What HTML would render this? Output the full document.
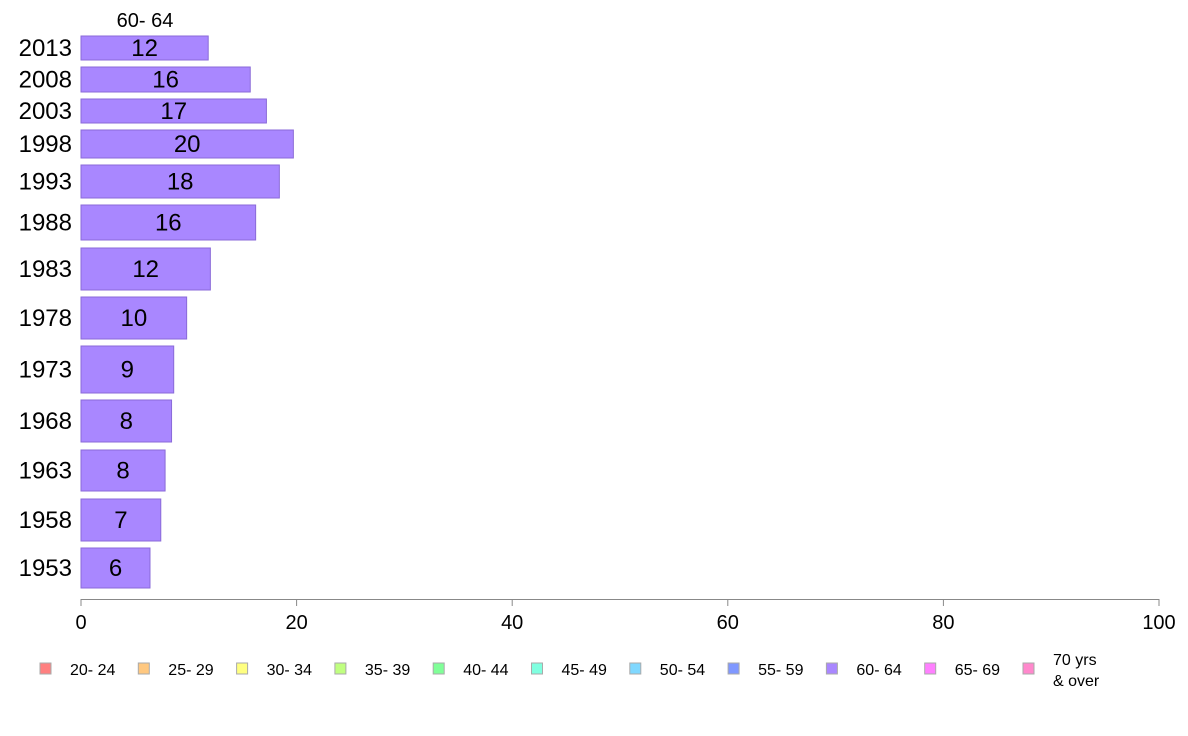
<!DOCTYPE html>
<html><head><meta charset="utf-8"><style>
body{margin:0;background:#fff;font-family:"Liberation Sans",Arial,sans-serif}
svg{display:block}
</style></head><body>
<svg width="1188" height="736">
<g id="bars"></g>
<g id="axis"></g>
<g id="legend"></g>
<text x="145" y="27" font-size="20" text-anchor="middle">60- 64</text>
</svg>
<script>
const years=["2013","2008","2003","1998","1993","1988","1983","1978","1973","1968","1963","1958","1953"];
const values=[11.8,15.7,17.2,19.7,18.4,16.2,12,9.8,8.6,8.4,7.8,7.4,6.4];
const labels=["12","16","17","20","18","16","12","10","9","8","8","7","6"];
const ticks=[0,20,40,60,80,100];
const legendLabels=["20- 24","25- 29","30- 34","35- 39","40- 44","45- 49","50- 54","55- 59","60- 64","65- 69","70 yrs|& over"];
const legendColors=["#ff8080","#ffc880","#ffff80","#c0ff80","#80ff98","#80ffe0","#80d8ff","#8098ff","#a987ff","#ff80ff","#ff88cc"];
const bandTop=[36,67,99,130,165,205,248,297,346,400,450,499,548];
const bandBot=[60,92,123,158,198,240,290,339,393,442,491,541,588];
const NS="http://www.w3.org/2000/svg";
const x=v=>81+v*10.78;
const bars=document.getElementById('bars');
function mk(t,a,p){const e=document.createElementNS(NS,t);for(const k in a)e.setAttribute(k,a[k]);p.appendChild(e);return e;}
years.forEach((yr,i)=>{
  const r=mk('rect',{x:x(0),y:bandTop[i],width:x(values[i])-x(0),height:bandBot[i]-bandTop[i],fill:'#a987ff',stroke:'#8a6ad8','stroke-width':1},bars);
  
  
  const cy=(bandTop[i]+bandBot[i])/2+8;
  const t=mk('text',{x:(x(0)+x(values[i]))/2,y:cy,'font-size':24,'text-anchor':'middle'},bars);t.textContent=labels[i];
  
  
  const l=mk('text',{x:72,y:cy,'font-size':24,'text-anchor':'end'},bars);l.textContent=yr;
  
  
});
const ax=document.getElementById('axis');
const al=mk('line',{x1:81,x2:1159,y1:599.5,y2:599.5,stroke:'#888'},ax);


ticks.forEach(v=>{
  mk('line',{x1:x(v),x2:x(v),y1:599,y2:606,stroke:'#888'},ax);
  const t=mk('text',{x:x(v),y:629,'font-size':20,'text-anchor':'middle'},ax);t.textContent=v;
  
  
});
const lg=document.getElementById('legend');
legendLabels.forEach((s,i)=>{
  const gx=40+i*98.3;
  const g=mk('g',{},lg);
  
  
  mk('rect',{x:gx,y:663,width:11,height:11,fill:legendColors[i],stroke:'#aaa'},g);
  const parts=s.split('|');
  if(parts.length==1){const t=mk('text',{x:gx+30,y:675,'font-size':16},g);t.textContent=s;}
  else parts.forEach((p,j)=>{const t=mk('text',{x:gx+30,y:665+j*21,'font-size':16},g);t.textContent=p;});
});
</script>
</body></html>
